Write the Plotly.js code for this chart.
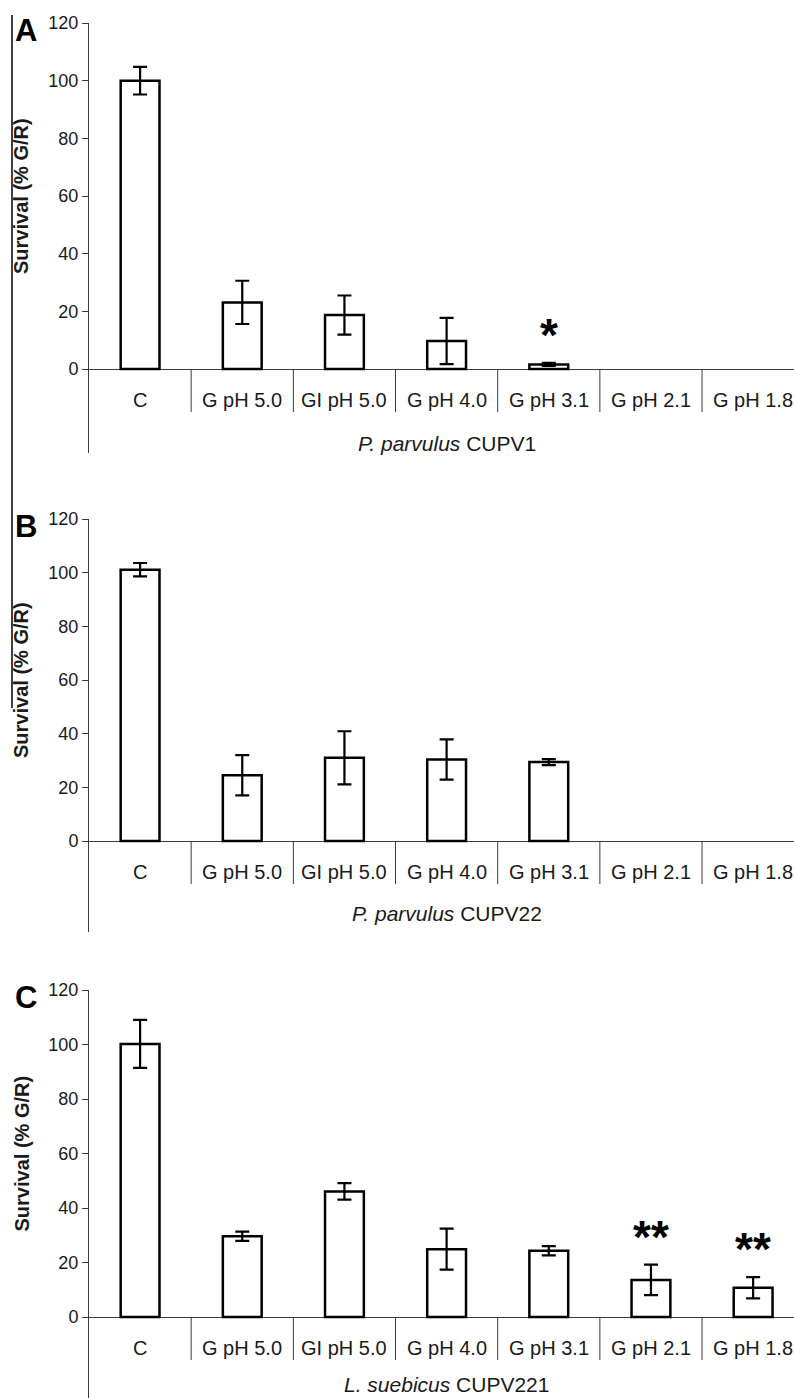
<!DOCTYPE html>
<html>
<head>
<meta charset="utf-8">
<script src="https://cdn.plot.ly/plotly-3.0.1.min.js"></script>
<style>
html,body{margin:0;padding:0;background:#fff;}
#chart{width:794px;height:1398px;}
</style>
</head>
<body>
<div id="chart"></div>
<script>
// ---- data ----
const categories = ['C', 'G pH 5.0', 'GI pH 5.0', 'G pH 4.0', 'G pH 3.1', 'G pH 2.1', 'G pH 1.8'];

const valuesA = [100, 23.1, 18.7, 9.7, 1.6, null, null];
const errorsA = [4.8, 7.5, 6.8, 8.0, 0.5, null, null];
const sigA    = ['', '', '', '', '*', '', ''];

const valuesB = [101.1, 24.5, 31.0, 30.4, 29.4, null, null];
const errorsB = [2.5, 7.5, 9.9, 7.5, 1.1, null, null];
const sigB    = ['', '', '', '', '', '', ''];

const valuesC = [100.2, 29.6, 46.1, 24.9, 24.3, 13.6, 10.7];
const errorsC = [8.8, 1.7, 3.0, 7.5, 1.7, 5.6, 3.9];
const sigC    = ['', '', '', '', '', '**', '**'];

const panelLetters = ['A', 'B', 'C'];
const strainItalic = ['P. parvulus', 'P. parvulus', 'L. suebicus'];
const strainCode   = ['CUPV1', 'CUPV22', 'CUPV221'];
const yTitle = 'Survival (% G/R)';
const yTicks = [0, 20, 40, 60, 80, 100, 120];

// ---- layout geometry (pixels) ----
const W = 794, H = 1398;
const plotLeft = 89;
const geom = [
  {top: 23,  zero: 369,  bottom: 453, titleShift: -74},
  {top: 519, zero: 841,  bottom: 932, titleShift: -72},
  {top: 990, zero: 1317, bottom: 1398, titleShift: -67}
];
const FONT = 'Liberation Sans, Arial, Helvetica, sans-serif';
const AX = '#3a3a3a';

const series = [
  {v: valuesA, e: errorsA, s: sigA},
  {v: valuesB, e: errorsB, s: sigB},
  {v: valuesC, e: errorsC, s: sigC}
];

const traces = [];
const layout = {
  width: W, height: H,
  margin: {l: 0, r: 0, t: 0, b: 0},
  paper_bgcolor: '#fff', plot_bgcolor: 'rgba(0,0,0,0)',
  showlegend: false,
  font: {family: FONT, color: '#1a1a1a', size: 18},
  annotations: [], shapes: []
};

series.forEach((sr, p) => {
  const n = p === 0 ? '' : String(p + 1);
  const xa = 'x' + n, ya = 'y' + n;
  const g = geom[p];
  const scale = (g.zero - g.top) / 120;
  const ymin = -(g.bottom - g.zero) / scale;

  traces.push({
    type: 'bar',
    x: categories.map((c, i) => i),
    y: sr.v,
    xaxis: xa, yaxis: ya,
    width: 0.38,
    marker: {color: '#ffffff', line: {color: '#000', width: 2.5}},
    error_y: {type: 'data', array: sr.e, visible: true, color: '#000', thickness: 2.2, width: 7},
    hoverinfo: 'none'
  });

  layout['xaxis' + n] = {
    domain: [plotLeft / W, 1],
    anchor: ya,
    range: [-0.5, 6.4],
    showline: false, showgrid: false, zeroline: false,
    showticklabels: false, ticks: '',
    fixedrange: true
  };
  layout['yaxis' + n] = {
    domain: [1 - g.bottom / H, 1 - g.top / H],
    anchor: xa,
    range: [ymin, 120],
    tickvals: yTicks,
    ticktext: yTicks.map(String),
    ticks: 'outside', ticklen: 6, tickcolor: AX, tickwidth: 1,
    showline: true, linecolor: AX, linewidth: 1,
    zeroline: true, zerolinecolor: AX, zerolinewidth: 1,
    showgrid: false,
    tickfont: {family: FONT, size: 18, color: '#1a1a1a'},
    fixedrange: true
  };

  // category labels and dividers
  categories.forEach((c, i) => {
    layout.annotations.push({
      xref: xa, yref: ya, x: i, y: 0, yshift: -31,
      text: c, showarrow: false, xanchor: 'center', yanchor: 'middle',
      font: {family: FONT, size: 20, color: '#1a1a1a'}
    });
    if (i < categories.length - 1) {
      layout.shapes.push({
        type: 'line', xref: xa, yref: ya,
        x0: i + 0.5, x1: i + 0.5,
        ysizemode: 'pixel', yanchor: 0, y0: 0, y1: -43,
        line: {color: AX, width: 1}
      });
    }
    if (sr.s[i]) {
      layout.annotations.push({
        xref: xa, yref: ya, x: i, y: (sr.v[i] || 0) + (sr.e[i] || 0),
        yshift: 0,
        text: '<b>' + sr.s[i] + '</b>', showarrow: false,
        xanchor: 'center', yanchor: 'bottom',
        font: {family: FONT, size: 46, color: '#000'}
      });
    }
  });

  // strain title
  layout.annotations.push({
    xref: xa, yref: ya, x: 3, y: 0, yshift: g.titleShift,
    text: '<i>' + strainItalic[p] + '</i> ' + strainCode[p],
    showarrow: false, xanchor: 'center', yanchor: 'middle',
    font: {family: FONT, size: 21, color: '#1a1a1a'}
  });

  // y title
  layout.annotations.push({
    xref: 'paper', yref: ya, x: 21 / W, y: 60,
    text: '<b>' + yTitle + '</b>', textangle: -90,
    showarrow: false, xanchor: 'center', yanchor: 'middle',
    font: {family: FONT, size: 20, color: '#1a1a1a'}
  });

  // panel letter
  layout.annotations.push({
    xref: 'paper', yref: ya, x: 26 / W, y: 120, yshift: -7,
    text: '<b>' + panelLetters[p] + '</b>',
    showarrow: false, xanchor: 'center', yanchor: 'middle',
    font: {family: FONT, size: 31, color: '#000'}
  });
});

// scanning artifact: thin vertical rule at the left edge
layout.shapes.push({
  type: 'line', xref: 'paper', yref: 'paper',
  x0: 12 / W, x1: 12 / W, y0: 1 - 15 / H, y1: 1 - 708 / H,
  line: {color: '#000', width: 1.5}
});

Plotly.newPlot('chart', traces, layout, {staticPlot: true, displayModeBar: false});
</script>
</body>
</html>
